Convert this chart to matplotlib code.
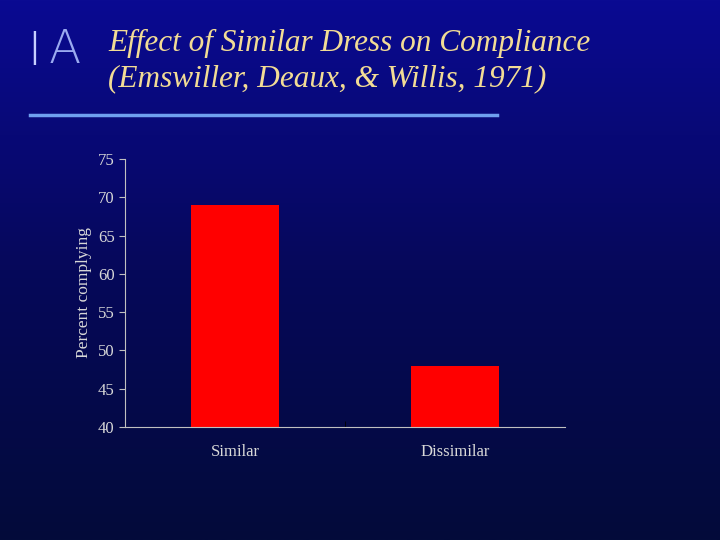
import numpy as np
import matplotlib
matplotlib.use("Agg")
import matplotlib.pyplot as plt
from matplotlib.colors import LinearSegmentedColormap

categories = ["Similar", "Dissimilar"]
percent_complying = [69, 48]
y_ticks = list(range(40, 80, 5))

plt.rcParams['font.family'] = ['Liberation Serif', 'DejaVu Serif']

fig = plt.figure(figsize=(7.2, 5.4), dpi=100)

# background gradient
bg = fig.add_axes([0, 0, 1, 1], zorder=-10)
cmap = LinearSegmentedColormap.from_list("bg", ["#0a0a92", "#06085a", "#030b3a"])
bg.imshow(np.linspace(0, 1, 256).reshape(-1, 1), aspect="auto", cmap=cmap, extent=[0, 1, 0, 1])
bg.set_axis_off()
bg.set_xlim(0, 1)
bg.set_ylim(0, 1)

# underline under title
bg.plot([30 / 720, 497 / 720], [1 - 115 / 540] * 2, color="#6fa0f0", lw=2.5)

# "IA" logo
fig.text(0.048, 1 - 52 / 540, "I", color="#c8d0ff", fontsize=34, family="DejaVu Sans",
         ha="center", va="center", fontweight="light")
fig.text(0.09, 1 - 50 / 540, "A", color="#9aaaf0", fontsize=34, family="DejaVu Sans",
         ha="center", va="center", fontweight="light")

fig.text(108 / 720, 1 - 43 / 540, "Effect of Similar Dress on Compliance",
         color="#f2dc95", fontsize=22.5, style="italic", va="center")
fig.text(108 / 720, 1 - 79 / 540, "(Emswiller, Deaux, & Willis, 1971)",
         color="#f2dc95", fontsize=22.5, style="italic", va="center")

ax = fig.add_axes([125 / 720, 1 - 427 / 540, 440 / 720, 268 / 540])
ax.patch.set_alpha(0)
x = np.arange(len(categories))
ax.bar(x, percent_complying, width=0.4, color="#ff0000", bottom=0)
ax.set_xlim(-0.5, 1.5)
ax.set_ylim(40, 75)
ax.set_yticks(y_ticks)
ax.set_xticks([0.5], minor=True)
ax.set_xticks(x)
ax.set_xticklabels(categories)
ax.tick_params(colors="#c0c0c0", labelcolor="#d8d8d8", labelsize=12, length=4)
ax.tick_params(axis="x", which="major", length=0, pad=12)
ax.tick_params(axis="x", which="minor", length=4, direction="in")
for s in ["top", "right"]:
    ax.spines[s].set_visible(False)
for s in ["left", "bottom"]:
    ax.spines[s].set_color("#c0c0c0")
ax.set_ylabel("Percent complying", color="#d8d8d8", fontsize=12.5)

fig.savefig("out.png", dpi=100)
